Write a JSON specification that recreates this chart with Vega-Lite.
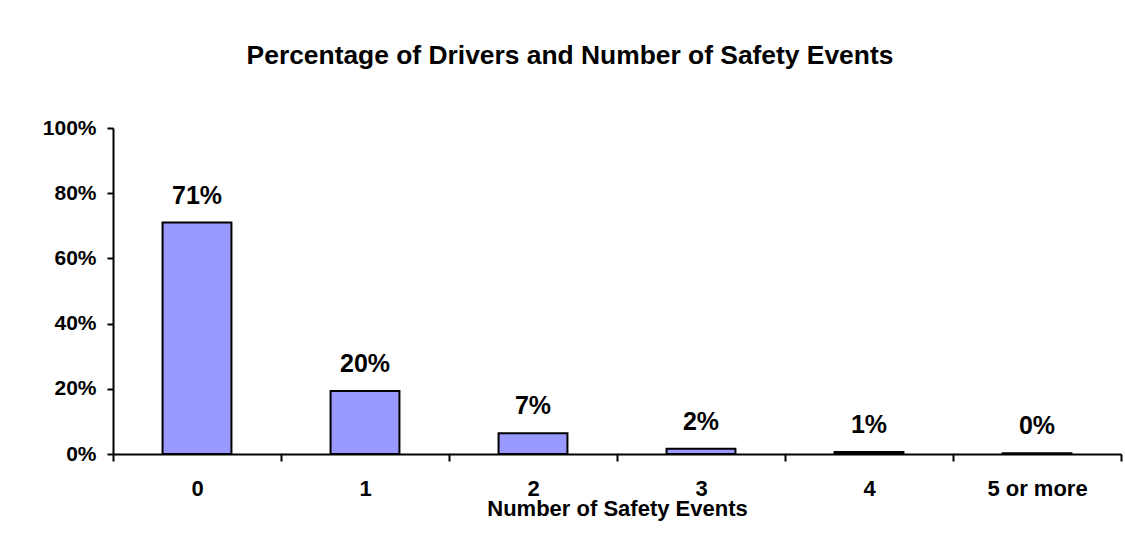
{
  "$schema": "https://vega.github.io/schema/vega-lite/v6.json",
  "width": 1008,
  "height": 326,
  "autosize": {"type": "none"},
  "padding": {"left": 113, "top": 128, "right": 4, "bottom": 79},
  "background": "white",
  "title": {
    "text": "Percentage of Drivers and Number of Safety Events",
    "font": "Liberation Sans",
    "fontSize": 26.4,
    "fontWeight": "bold",
    "color": "black",
    "anchor": "middle",
    "frame": "group",
    "dx": -47,
    "offset": 48
  },
  "data": {
    "values": [
      {"events": "0", "share": 0.71, "label": "71%"},
      {"events": "1", "share": 0.193, "label": "20%"},
      {"events": "2", "share": 0.064, "label": "7%"},
      {"events": "3", "share": 0.016, "label": "2%"},
      {"events": "4", "share": 0.006, "label": "1%"},
      {"events": "5 or more", "share": 0.002, "label": "0%"}
    ]
  },
  "encoding": {
    "x": {
      "field": "events",
      "type": "ordinal",
      "sort": null,
      "scale": {"paddingInner": 0, "paddingOuter": 0},
      "axis": {
        "title": "Number of Safety Events",
        "labelAngle": 0,
        "tickBand": "extent",
        "labelFontSize": 22,
        "labelFontWeight": "bold",
        "labelColor": "black",
        "labelPadding": 17,
        "tickSize": 7,
        "tickWidth": 2,
        "tickColor": "black",
        "domainColor": "black",
        "domainWidth": 2,
        "titleFontSize": 22,
        "titleFontWeight": "bold",
        "titleColor": "black",
        "titleBaseline": "alphabetic",
        "titleY": 61,
        "grid": false
      }
    },
    "y": {
      "field": "share",
      "type": "quantitative",
      "scale": {"domain": [0, 1], "nice": false},
      "axis": {
        "title": null,
        "values": [0, 0.2, 0.4, 0.6, 0.8, 1],
        "format": ".0%",
        "labelFontSize": 21,
        "labelFontWeight": "bold",
        "labelColor": "black",
        "labelPadding": 11,
        "tickSize": 6,
        "tickWidth": 2,
        "tickColor": "black",
        "domainColor": "black",
        "domainWidth": 2,
        "grid": false
      }
    }
  },
  "layer": [
    {
      "mark": {"type": "bar", "fill": "#9999FF", "stroke": "black", "strokeWidth": 2, "width": {"band": 0.41}}
    },
    {
      "mark": {"type": "text", "font": "Liberation Sans", "fontSize": 25, "fontWeight": "bold", "color": "black", "baseline": "alphabetic", "dy": -19},
      "encoding": {"text": {"field": "label"}}
    }
  ],
  "config": {
    "font": "Liberation Sans",
    "view": {"stroke": null},
    "axis": {"labelFont": "Liberation Sans", "titleFont": "Liberation Sans"}
  }
}
